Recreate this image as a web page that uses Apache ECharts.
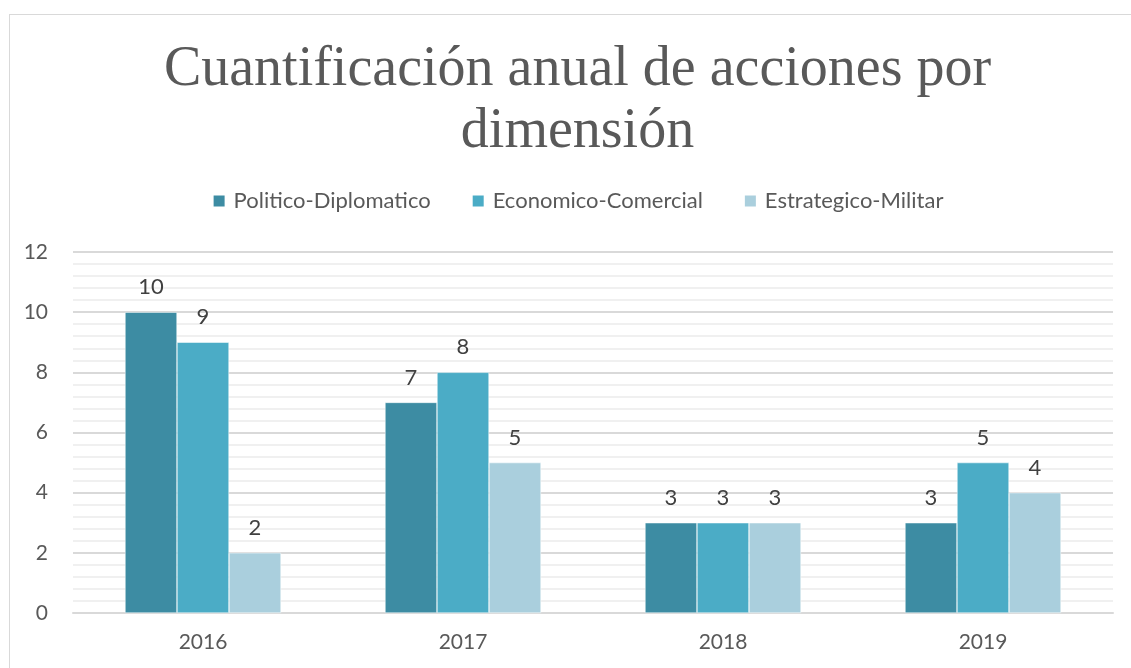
<!DOCTYPE html>
<html>
<head>
<meta charset="utf-8">
<script src="https://cdn.jsdelivr.net/npm/echarts@6/dist/echarts.min.js"></script>
<style>
html,body{margin:0;padding:0;background:#fff;overflow:hidden;width:1131px;height:668px;}
#frame{position:absolute;left:9px;top:14px;width:1135px;height:673px;border:1px solid #d9d9d9;}
#chart{width:1135px;height:673px;}
</style>
</head>
<body>
<div id="frame"><div id="chart"></div></div>
<script>
var titleText = 'Cuantificación anual de acciones por\ndimensión';
var categories = ['2016', '2017', '2018', '2019'];
var seriesNames = ['Politico-Diplomatico', 'Economico-Comercial', 'Estrategico-Militar'];
var politico = [10, 7, 3, 3];
var economico = [9, 8, 3, 5];
var estrategico = [2, 5, 3, 4];
var colors = ['#3d8ca3', '#4bacc6', '#aacfdd'];
var yTicks = [0, 2, 4, 6, 8, 10, 12];

var sans = 'Lato, "Open Sans", sans-serif';
var chart = echarts.init(document.getElementById('chart'), null, {renderer: 'canvas'});
var values = [politico, economico, estrategico];
chart.setOption({
  animation: false,
  color: colors,
  title: {
    text: titleText,
    left: 'center',
    top: 19,
    textStyle: {fontFamily: '"Liberation Serif", serif', fontSize: 56, fontWeight: 'normal', color: '#595959', lineHeight: 62, align: 'center'}
  },
  legend: {
    data: seriesNames,
    top: 170,
    left: 'center',
    itemWidth: 13,
    itemHeight: 13,
    itemGap: 40,
    icon: 'rect',
    textStyle: {fontFamily: sans, fontSize: 22, color: '#595959', padding: [0, 0, 0, 3]}
  },
  grid: {left: 63, right: 32, top: 237, bottom: 75, containLabel: false},
  xAxis: {
    type: 'category',
    data: categories,
    axisLine: {lineStyle: {color: '#d9d9d9', width: 2}},
    axisTick: {show: false},
    axisLabel: {fontFamily: sans, fontSize: 21, color: '#595959', margin: 19}
  },
  yAxis: {
    type: 'value',
    min: yTicks[0],
    max: yTicks[yTicks.length - 1],
    interval: 2,
    axisLine: {show: false},
    axisTick: {show: false},
    axisLabel: {fontFamily: sans, fontSize: 21, color: '#595959', margin: 25},
    splitLine: {lineStyle: {color: '#d9d9d9', width: 2}},
    minorTick: {show: false, splitNumber: 5},
    minorSplitLine: {show: true, lineStyle: {color: '#f0f0f0', width: 2}}
  },
  series: seriesNames.map(function (n, i) {
    return {
      name: n,
      type: 'bar',
      data: values[i],
      barGap: '0%',
      barCategoryGap: '40%',
      itemStyle: {color: colors[i], borderColor: '#ffffff', borderWidth: 0.5},
      label: {show: true, position: 'top', distance: 14, fontFamily: sans, fontSize: 22, color: '#404040'}
    };
  })
});
</script>
</body>
</html>
